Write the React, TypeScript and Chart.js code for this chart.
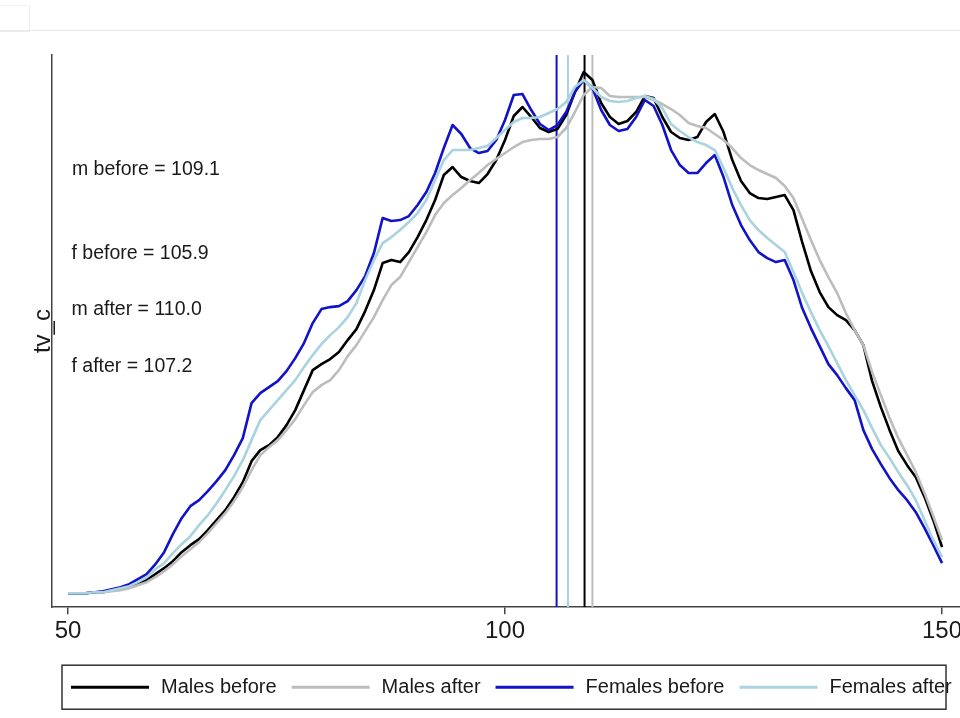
import React, { useEffect, useRef } from "react";
import { Chart, registerables } from "chart.js";

Chart.register(...registerables);

// ---- data ----
const xValues = [
  50, 51, 52, 53, 54, 55, 56, 57, 58, 59,
  60, 61, 62, 63, 64, 65, 66, 67, 68, 69,
  70, 71, 72, 73, 74, 75, 76, 77, 78, 79,
  80, 81, 82, 83, 84, 85, 86, 87, 88, 89,
  90, 91, 92, 93, 94, 95, 96, 97, 98, 99,
  100, 101, 102, 103, 104, 105, 106, 107, 108, 109,
  110, 111, 112, 113, 114, 115, 116, 117, 118, 119,
  120, 121, 122, 123, 124, 125, 126, 127, 128, 129,
  130, 131, 132, 133, 134, 135, 136, 137, 138, 139,
  140, 141, 142, 143, 144, 145, 146, 147, 148, 149,
  150,
];

const malesBefore = [
  0.14, 0.14, 0.14, 0.15, 0.15, 0.17, 0.18, 0.20, 0.23, 0.27,
  0.33, 0.39, 0.46, 0.55, 0.62, 0.68, 0.77, 0.87, 0.97, 1.10,
  1.25, 1.46, 1.57, 1.62, 1.70, 1.82, 1.97, 2.17, 2.37, 2.43,
  2.48, 2.55, 2.67, 2.78, 2.96, 3.17, 3.44, 3.47, 3.45, 3.55,
  3.70, 3.87, 4.07, 4.32, 4.40, 4.30, 4.26, 4.24, 4.33, 4.47,
  4.67, 4.91, 5.00, 4.90, 4.79, 4.75, 4.78, 4.92, 5.15, 5.35,
  5.27, 5.04, 4.90, 4.83, 4.86, 4.95, 5.11, 5.09, 4.90, 4.75,
  4.69, 4.67, 4.70, 4.85, 4.93, 4.75, 4.47, 4.26, 4.14, 4.09,
  4.08, 4.10, 4.12, 3.97, 3.65, 3.36, 3.15, 3.00, 2.92, 2.87,
  2.77, 2.62, 2.26, 2.00, 1.77, 1.56, 1.42, 1.30, 1.10, 0.87,
  0.60,
];

const malesAfter = [
  0.14, 0.14, 0.14, 0.15, 0.15, 0.16, 0.17, 0.19, 0.22, 0.25,
  0.30, 0.36, 0.43, 0.51, 0.58, 0.65, 0.74, 0.84, 0.94, 1.06,
  1.20, 1.37, 1.52, 1.60, 1.67, 1.77, 1.88, 2.02, 2.15, 2.22,
  2.27, 2.37, 2.51, 2.62, 2.76, 2.90, 3.07, 3.22, 3.30, 3.45,
  3.60, 3.75, 3.92, 4.04, 4.12, 4.19, 4.27, 4.34, 4.42, 4.48,
  4.54, 4.60, 4.65, 4.67, 4.68, 4.68, 4.70, 4.79, 4.95, 5.12,
  5.20, 5.19, 5.11, 5.10, 5.10, 5.10, 5.10, 5.07, 5.03, 4.98,
  4.92, 4.84, 4.81, 4.79, 4.73, 4.67, 4.59, 4.49, 4.42, 4.37,
  4.33, 4.29, 4.21, 4.09, 3.88, 3.67, 3.47, 3.30, 3.14, 2.94,
  2.77, 2.62, 2.35, 2.12, 1.89, 1.69, 1.52, 1.35, 1.14, 0.91,
  0.67,
];

const femalesBefore = [
  0.14, 0.14, 0.14, 0.15, 0.16, 0.18, 0.20, 0.23, 0.28, 0.33,
  0.43, 0.55, 0.73, 0.89, 1.01, 1.07, 1.16, 1.26, 1.37, 1.52,
  1.69, 2.04, 2.14, 2.20, 2.26, 2.36, 2.49, 2.64, 2.84, 2.98,
  3.00, 3.01, 3.06, 3.17, 3.31, 3.54, 3.89, 3.86, 3.87, 3.91,
  4.02, 4.15, 4.34, 4.59, 4.82, 4.73, 4.59, 4.54, 4.56, 4.67,
  4.87, 5.12, 5.13, 4.97, 4.83, 4.77, 4.82, 4.95, 5.15, 5.27,
  5.19, 4.97, 4.82, 4.76, 4.78, 4.90, 5.07, 5.01, 4.82, 4.57,
  4.42, 4.34, 4.34, 4.44, 4.52, 4.30, 4.02, 3.82, 3.67, 3.55,
  3.49, 3.45, 3.47, 3.27, 2.99, 2.79, 2.61, 2.43, 2.32, 2.19,
  2.07, 1.77, 1.58, 1.43, 1.29, 1.17, 1.07, 0.95, 0.79, 0.62,
  0.44,
];

const femalesAfter = [
  0.14, 0.14, 0.14, 0.15, 0.15, 0.17, 0.19, 0.21, 0.25, 0.30,
  0.38, 0.44, 0.54, 0.63, 0.71, 0.82, 0.92, 1.04, 1.17, 1.31,
  1.47, 1.67, 1.87, 1.97, 2.07, 2.17, 2.27, 2.40, 2.52, 2.63,
  2.72, 2.80, 2.90, 3.04, 3.27, 3.47, 3.64, 3.70, 3.77, 3.85,
  3.94, 4.07, 4.27, 4.47, 4.57, 4.57, 4.57, 4.59, 4.61, 4.69,
  4.77, 4.85, 4.89, 4.89, 4.90, 4.94, 4.98, 5.05, 5.20, 5.27,
  5.19, 5.10, 5.06, 5.05, 5.06, 5.09, 5.11, 5.08, 4.99, 4.83,
  4.76, 4.70, 4.65, 4.62, 4.57, 4.39, 4.19, 4.02, 3.87, 3.77,
  3.69, 3.62, 3.55, 3.35, 3.14, 2.95, 2.77, 2.61, 2.44, 2.27,
  2.12, 1.97, 1.79, 1.62, 1.49, 1.35, 1.22, 1.07, 0.87, 0.67,
  0.50,
];

const seriesLabels = ["Males before", "Males after", "Females before", "Females after"];
const seriesColors = ["#000000", "#bdbdbd", "#1212c8", "#a8d3df"];
const seriesData = [malesBefore, malesAfter, femalesBefore, femalesAfter];

// group means shown as vertical lines (same order as the series)
const groupMeans = [109.1, 110.0, 105.9, 107.2];

const annotationTexts = ["m before = 109.1", "f before = 105.9", "m after = 110.0", "f after = 107.2"];
const xTickValues = [50, 100, 150];
const yTitle = "tv_c";

const FONT = '"Liberation Sans", Arial, Helvetica, sans-serif';

const overlayPlugin = {
  id: "overlay",
  afterDraw(chart: any) {
    const ctx = chart.ctx as CanvasRenderingContext2D;
    const xs = chart.scales.x;
    const ys = chart.scales.y;
    ctx.save();

    // text annotations (data coordinates)
    const annPos = [
      { x: 50.45, y: 4.37 },
      { x: 50.4, y: 3.53 },
      { x: 50.4, y: 2.97 },
      { x: 50.4, y: 2.4 },
    ];
    ctx.font = `19.5px ${FONT}`;
    ctx.fillStyle = "#1a1a1a";
    ctx.textAlign = "left";
    ctx.textBaseline = "middle";
    annotationTexts.forEach((t, i) => {
      ctx.fillText(t, xs.getPixelForValue(annPos[i].x), ys.getPixelForValue(annPos[i].y));
    });

    // legend box
    const boxLeft = xs.left + 10;
    const boxTop = chart.chartArea.bottom + 58;
    const boxW = 884;
    const boxH = 44;
    ctx.strokeStyle = "#333333";
    ctx.lineWidth = 1.5;
    ctx.strokeRect(boxLeft, boxTop, boxW, boxH);

    const cy = boxTop + boxH / 2;
    let x = boxLeft + 9;
    ctx.font = `20px ${FONT}`;
    ctx.fillStyle = "#1a1a1a";
    ctx.textBaseline = "middle";
    chart.data.datasets.forEach((ds: any) => {
      if (!ds.inLegend) return;
      ctx.strokeStyle = ds.borderColor;
      ctx.lineWidth = 3;
      ctx.beginPath();
      ctx.moveTo(x, cy);
      ctx.lineTo(x + 78, cy);
      ctx.stroke();
      const tx = x + 90;
      ctx.fillText(ds.label, tx, cy);
      x = tx + ctx.measureText(ds.label).width + 15;
    });

    ctx.restore();
  },
};

export default function App() {
  const canvasRef = useRef<HTMLCanvasElement | null>(null);

  useEffect(() => {
    if (!canvasRef.current) return;

    const curveSets = seriesLabels.map((label, i) => ({
      label,
      inLegend: true,
      data: xValues.map((x, j) => ({ x, y: seriesData[i][j] })),
      borderColor: seriesColors[i],
      backgroundColor: seriesColors[i],
      borderWidth: 2.6,
      pointRadius: 0,
      tension: 0,
      borderJoinStyle: "round" as const,
      fill: false,
      order: 4 - i,
    }));

    const meanLines = groupMeans.map((m, i) => ({
      label: seriesLabels[i] + " mean",
      inLegend: false,
      data: [
        { x: m, y: 0 },
        { x: m, y: 5.52 },
      ],
      borderColor: seriesColors[i],
      backgroundColor: seriesColors[i],
      borderWidth: 2,
      pointRadius: 0,
      fill: false,
      order: 10 + i,
    }));

    const chart = new Chart(canvasRef.current, {
      type: "line",
      data: { datasets: [...curveSets, ...meanLines] as any },
      options: {
        animation: false,
        responsive: false,
        parsing: true,
        layout: { padding: { left: 35.2, right: 32, top: 55, bottom: 69 } },
        plugins: {
          legend: { display: false },
          tooltip: { enabled: false },
          title: { display: false },
        },
        scales: {
          x: {
            type: "linear",
            min: 48.17,
            max: 152.97,
            afterBuildTicks: (scale: any) => {
              scale.ticks = xTickValues.map((v) => ({ value: v }));
            },
            ticks: {
              autoSkip: false,
              maxRotation: 0,
              padding: 3,
              color: "#1a1a1a",
              font: { family: FONT, size: 24 },
            },
            grid: {
              display: true,
              drawOnChartArea: false,
              drawTicks: true,
              tickLength: 7,
              color: "#444444",
              lineWidth: 1.5,
            },
            border: { display: true, color: "#444444", width: 1.5 },
          },
          y: {
            type: "linear",
            min: 0,
            max: 5.52,
            ticks: { display: false },
            grid: { display: false, drawTicks: false },
            border: { display: true, color: "#444444", width: 1.5 },
            title: {
              display: true,
              text: yTitle,
              color: "#1a1a1a",
              padding: 0,
              font: { family: FONT, size: 24, lineHeight: 0.7 },
            },
          },
        },
      },
      plugins: [overlayPlugin],
    });

    return () => chart.destroy();
  }, []);

  return (
    <div
      style={{
        position: "fixed",
        left: 0,
        top: 0,
        width: 960,
        height: 718,
        overflow: "hidden",
        background: "#ffffff",
      }}
    >
      <div
        style={{
          position: "absolute",
          left: 0,
          top: 5,
          width: 29,
          height: 25,
          borderRight: "1px solid #ececec",
          borderBottom: "1px solid #ececec",
          borderTop: "1px solid #f2f2f2",
        }}
      />
      <div
        style={{
          position: "absolute",
          left: 0,
          top: 30,
          width: 960,
          height: 1,
          background: "#e8e8e8",
        }}
      />
      <div style={{ position: "absolute", left: 0, top: 0 }}>
        <canvas ref={canvasRef} width={1000} height={718} style={{ width: 1000, height: 718, display: "block" }} />
      </div>
    </div>
  );
}
